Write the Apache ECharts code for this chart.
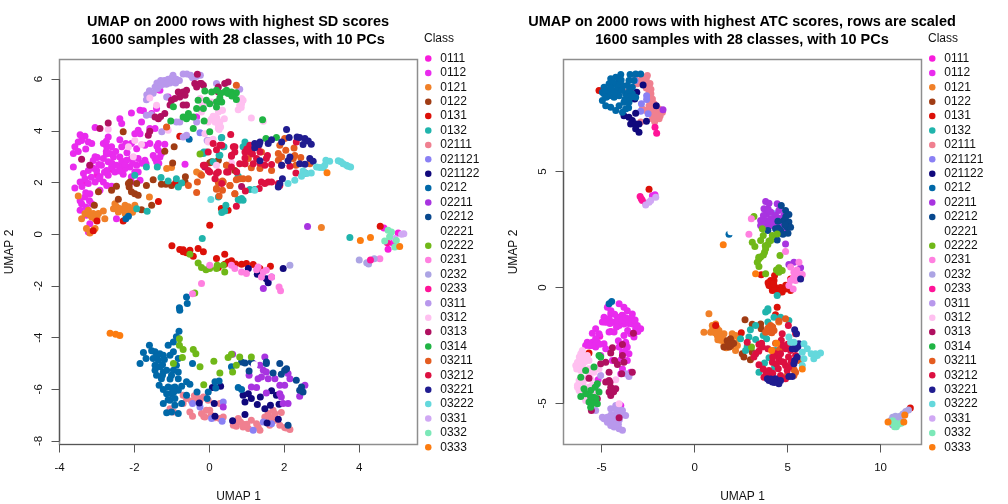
<!DOCTYPE html>
<html><head><meta charset="utf-8">
<style>html,body{margin:0;padding:0;background:#fff}#c{width:1008px;height:504px}</style>
<script src="https://cdn.jsdelivr.net/npm/echarts@6/dist/echarts.min.js"></script>
</head><body><div id="c"></div>
<script>
const classes=["0111","0112","0121","0122","0131","0132","02111","021121","021122","0212","02211","02212","02221","02222","0231","0232","0233","0311","0312","0313","0314","03211","03212","03221","03222","0331","0332","0333"];
const classColors=["#F81CDC","#E92BEE","#F08028","#A03C14","#DC1008","#20B4AC","#F08090","#8A80F4","#10087C","#0068A8","#A834E0","#08488E","#FFFFFF","#70B818","#FF80E0","#ACA4E4","#FF1498","#B898EC","#FFC0F0","#B01060","#20B444","#E45C20","#DC1040","#201C90","#64D8DC","#D0A8F4","#7CE8B8","#FC7C10"];
const titleSd="UMAP on 2000 rows with highest SD scores\n1600 samples with 28 classes, with 10 PCs";
const titleAtc="UMAP on 2000 rows with highest ATC scores, rows are scaled\n1600 samples with 28 classes, with 10 PCs";
const sdXTicks=[-4,-2,0,2,4], sdYTicks=[-8,-6,-4,-2,0,2,4,6];
const atcXTicks=[-5,0,5,10], atcYTicks=[-5,0,5];
const sdXRange=[-4,5.555], sdYRange=[-8.135,6.76];
const atcXRange=[-7.05,12.2], atcYRange=[-6.77,9.83];

const sd0111=[[4.66,0.24],[4.9,-0.34],[5.04,0.05],[4.77,-0.58],[-3.0,2.3],[-2.6,2.5],[-2.3,2.8],[-3.3,2.0]];
const sd0112=[[-3.32,3.79],[-3.41,3.63],[-3.5,3.57],[-3.59,3.38],[-3.63,3.12],[-3.23,3.57],[-3.14,3.51],[-3.05,4.13],[-2.7,3.76],[-2.83,3.51],[-2.74,3.38],[-2.61,3.38],[-2.65,3.12],[-2.39,4.47],[-2.08,4.69],[-1.85,4.8],[-1.76,4.78],[-2.39,3.66],[-2.23,3.51],[-2.08,3.51],[-2.34,3.38],[-2.39,2.99],[-2.56,2.99],[-2.7,2.8],[-2.83,2.93],[-2.99,2.97],[-2.88,2.67],[-3.01,2.47],[-3.19,2.67],[-3.23,2.47],[-3.36,2.35],[-3.63,2.6],[-3.32,2.15],[-3.45,2.02],[-3.59,1.79],[-3.23,1.96],[-3.05,2.02],[-2.83,2.02],[-2.74,1.89],[-2.61,1.86],[-3.19,1.57],[-3.32,1.44],[-3.41,1.18],[-3.45,0.93],[-3.14,1.18],[-3.28,0.73],[-3.19,0.41],[-3.23,0.09],[-2.92,2.22],[-2.74,2.47],[-2.61,2.6],[-2.48,2.67],[-2.34,2.8],[-2.21,2.86],[-2.08,2.93],[-1.9,2.93],[-1.72,2.86],[-1.94,2.67],[-2.12,2.6],[-2.25,2.54],[-2.39,2.6],[-2.52,2.41],[-2.7,2.28],[-1.99,2.41],[-2.08,2.22],[-1.9,2.41],[-1.85,2.09],[-2.08,2.02],[-2.3,2.32],[-1.36,3.25],[-1.32,2.99],[-1.41,2.8],[-1.28,3.12],[-1.45,2.93],[-1.69,2.73],[-1.85,3.89],[-1.99,3.89],[-1.9,4.02],[-1.81,4.34],[-1.59,4.09],[-1.45,4.09],[-1.41,4.86],[-1.1,5.31],[-1.32,5.57],[-1.36,5.6],[-1.72,3.44],[-1.36,3.51],[-1.19,3.48],[-1.59,3.51],[-1.54,4.67],[-1.94,3.31],[-0.65,2.71],[-0.34,4.54],[-2.34,4.28],[-2.48,0.6],[-2.92,1.7],[-3.05,3.0],[-2.5,3.2],[-2.2,3.15],[-3.1,2.85],[-2.75,3.1],[-3.45,3.85],[-3.5,3.2],[-3.3,3.3],[-2.95,2.7],[-3.1,2.55],[-2.8,2.4],[-2.6,2.75],[-2.4,2.45],[-2.25,2.7],[-2.05,2.75],[-1.8,2.75],[-2.95,2.15],[-3.15,2.2],[-3.4,1.85],[-3.3,1.6],[-3.45,1.3],[-3.3,1.05],[-3.2,1.3],[-2.75,3.6],[-2.75,3.2],[-1.35,2.75],[-1.5,3.05],[-1.4,3.4]];
const sd0121=[[-2.56,0.99],[-2.48,1.06],[-2.43,0.86],[-2.3,0.95],[-2.16,1.06],[-2.08,0.93],[-1.99,1.12],[-2.25,1.12],[-2.52,1.18],[-3.5,1.48],[-3.41,0.6],[-3.32,0.8],[-3.23,0.93],[-3.1,0.8],[-2.96,0.8],[-2.83,0.9],[-2.79,0.6],[-3.05,0.6],[-3.14,0.67],[-3.28,0.22],[-3.1,0.15],[-3.19,0.05],[-3.05,0.22],[-1.6,1.44],[-1.01,2.58],[-1.14,2.54],[-1.14,4.13],[-0.25,2.34],[-0.34,2.41],[2.99,0.26],[-2.36,0.95],[-2.2,0.85],[-2.4,1.0],[-2.25,0.8],[-2.05,0.85],[-3.0,0.65],[-3.2,0.75],[-2.2,1.02]];
const sd0122=[[-2.16,1.96],[-2.14,1.83],[-2.12,2.02],[-1.99,1.57],[-2.08,1.64],[-1.9,1.51],[-1.94,1.96],[-1.68,1.89],[-1.5,2.11],[-1.28,1.93],[-1.16,1.93],[-1.01,1.89],[-0.64,2.22],[-0.65,2.02],[-0.83,1.89],[-1.19,3.21],[-0.98,2.76],[-0.94,3.38],[-2.3,3.96],[-2.43,1.35],[-3.07,1.12],[-1.81,0.95],[-1.54,1.12],[-2.48,1.86],[-2.61,1.7],[-2.96,1.64],[0.06,2.8],[0.01,2.77],[0.24,2.86],[0.46,2.67],[0.68,2.47]];
const sd0131=[[0.01,0.35],[-1.36,1.27],[-3.1,0.13],[-2.3,0.51],[-3.0,0.51],[-0.9,1.99],[0.32,1.0],[0.5,0.93],[-0.79,3.79],[-1.0,-0.45],[-0.79,-0.59],[-0.7,-0.68],[-0.61,-0.72],[-0.52,-0.62],[-0.43,-0.85],[-0.3,-0.55],[-0.16,-0.68],[0.19,-0.94],[0.41,-0.77],[0.5,-1.07],[0.59,-1.03],[0.86,-1.16],[0.99,-1.13],[1.17,-1.17],[0.41,-1.16],[0.24,-1.29],[1.35,-1.33],[1.63,-1.24],[-0.7,-0.6],[0.7,-1.15],[4.56,0.31]];
const sd0132=[[-1.99,2.28],[-1.68,2.6],[-1.39,2.6],[-1.29,2.19],[-1.1,2.06],[-0.88,2.15],[-0.74,1.98],[-0.83,1.83],[-0.16,3.12],[-0.08,3.18],[0.33,3.74],[0.28,3.06],[0.1,2.8],[0.24,1.44],[0.39,3.38],[-1.94,0.99],[-1.66,0.89],[0.33,0.84],[0.41,0.9],[0.44,1.12],[-0.19,-0.17],[0.77,1.34],[0.77,2.24],[0.95,3.57],[1.01,3.44],[0.9,3.38],[0.8,1.31],[0.9,1.31],[0.86,1.38],[1.08,1.73],[1.21,1.73],[0.37,3.38],[0.32,3.73],[-0.15,3.18],[0.26,3.06],[3.75,-0.13]];
const sd02111=[[-0.7,-6.23],[-0.61,-6.36],[-0.48,-6.45],[-0.34,-6.3],[-0.16,-6.3],[-0.03,-6.42],[-1.05,-6.75],[-0.96,-6.88],[-0.52,-6.88],[-0.45,-7.04],[-0.21,-6.94],[-0.08,-6.81],[-0.12,-7.07],[0.01,-6.81],[0.15,-7.1],[0.28,-7.13],[0.37,-7.07],[0.64,-7.39],[0.72,-7.43],[0.83,-7.26],[0.9,-7.46],[1.04,-7.52],[1.12,-7.2],[1.26,-7.33],[1.35,-7.58],[1.48,-7.07],[1.57,-6.94],[1.7,-6.81],[1.92,-6.9],[1.88,-7.39],[2.01,-7.48],[2.15,-7.55],[1.61,-7.39],[1.75,-7.2],[-0.39,-6.42],[-0.7,-6.55],[-0.25,-6.42],[0.77,-7.13],[0.28,-6.55],[-0.4,-6.25],[-0.15,-7.05],[0.05,-7.0],[0.9,-7.35],[1.0,-7.35],[1.3,-7.45],[1.65,-7.1],[1.75,-6.95],[2.05,-7.5],[0.7,-7.25]];
const sd021121=[[-0.25,-6.68],[-0.45,-6.55],[0.06,-7.13],[0.34,-7.24],[1.17,-7.58],[1.44,-7.26],[1.66,-7.33],[0.37,-6.49],[-0.25,3.93]];
const sd021122=[[0.08,-5.93],[0.3,-5.88],[-0.27,-6.53],[0.13,-6.55],[0.15,-7.04],[0.9,-6.23],[1.04,-6.17],[1.12,-6.36],[0.95,-6.49],[1.28,-6.59],[1.36,-6.3],[1.66,-6.06],[1.79,-6.23],[1.48,-6.75],[1.63,-6.62],[1.86,-6.58],[0.95,-6.97],[0.62,-7.22],[1.54,-7.3],[1.84,-7.16],[1.97,-1.33],[1.04,-1.33],[1.28,-1.55],[1.52,-1.72],[1.57,-1.88]];
const sd0212=[[-0.81,-3.75],[-0.88,-3.97],[-0.96,-4.17],[-1.1,-4.3],[-1.6,-4.3],[-1.76,-4.58],[-1.54,-4.51],[-1.45,-4.55],[-1.32,-4.62],[-1.23,-4.68],[-0.96,-4.55],[-1.05,-4.68],[-1.69,-4.81],[-1.85,-5.0],[-1.5,-4.81],[-1.36,-4.88],[-1.45,-5.07],[-1.32,-5.13],[-1.45,-5.26],[-1.23,-5.33],[-1.41,-5.46],[-1.28,-5.59],[-1.01,-5.46],[-1.14,-5.26],[-0.83,-4.81],[-0.88,-5.07],[-0.96,-5.26],[-0.83,-5.33],[-0.83,-5.59],[-1.34,-5.84],[-1.23,-6.01],[-1.1,-5.91],[-1.14,-6.17],[-0.92,-5.91],[-0.74,-5.88],[-1.01,-6.17],[-1.05,-6.42],[-0.92,-6.36],[-0.92,-6.62],[-1.23,-6.55],[-1.14,-6.91],[-0.83,-6.94],[-1.01,-6.88],[-0.83,-6.04],[-0.61,-5.71],[-0.52,-5.8],[-0.45,-5.0],[-0.33,-6.1],[-0.03,-6.1],[-0.06,-6.36],[-0.61,-6.23],[0.15,-5.71],[0.26,-5.68],[0.17,-5.95],[0.59,-5.13],[0.77,-5.93],[0.86,-6.01],[-0.74,-6.55],[-0.61,-2.43],[-0.59,-2.68],[-0.8,-2.84],[-0.79,-2.94],[-0.54,3.67],[-2.16,0.7],[-2.23,0.6],[-1.4,-4.7],[-1.2,-4.85],[-1.25,-5.05],[-1.05,-5.6],[-1.0,-5.95],[-1.1,-6.4],[-0.95,-6.1],[-1.25,-5.45]];
const sd02211=[[1.48,-4.75],[1.35,-5.07],[1.44,-5.26],[1.52,-5.33],[1.39,-5.52],[1.3,-5.59],[1.57,-5.59],[1.75,-5.59],[1.88,-5.84],[2.01,-5.84],[2.1,-5.39],[2.15,-5.59],[1.88,-6.17],[1.92,-6.3],[1.12,-5.91],[1.26,-5.93],[1.52,-6.14],[1.97,-6.55],[2.1,-6.55],[2.41,-6.27],[2.55,-5.84],[1.06,-5.46],[0.62,-4.64],[0.37,-6.68],[1.44,-2.1],[1.66,-1.65],[1.17,-5.0],[2.62,0.3]];
const sd02212=[[0.86,-4.94],[0.95,-4.98],[1.12,-4.94],[1.52,-5.0],[1.88,-5.0],[2.01,-5.26],[2.06,-5.2],[1.92,-5.42],[1.7,-5.37],[1.52,-4.94],[1.06,-5.29],[2.46,-5.91],[2.41,-6.04],[2.5,-6.1],[2.32,-5.65],[2.1,-7.39]];
const sd02221=[[1.2,-5.05],[-0.02,-4.95]];
const sd02222=[[-0.8,-4.3],[-0.7,-4.46],[-0.8,-4.04],[-0.43,-4.46],[-0.36,-4.62],[-0.72,-4.77],[-0.96,-5.0],[-0.25,-5.13],[0.28,-5.37],[-0.15,-5.82],[0.12,-4.91],[0.5,-4.77],[0.59,-4.64],[0.72,-5.07],[0.62,-5.33],[0.81,-4.75],[1.12,-4.75],[-0.3,-1.11],[-0.21,-1.29],[-0.09,-1.37],[0.01,-1.33],[0.21,-1.2],[0.19,-1.33],[0.37,-1.2],[0.41,-1.46],[-0.39,-2.27],[-0.52,-0.77],[-0.25,3.1]];
const sd0231=[[0.01,-1.2],[0.59,-1.2],[0.68,-1.33],[0.86,-1.46],[0.99,-1.52],[1.26,-1.37],[1.44,-1.46],[1.39,-1.65],[1.52,-1.39],[1.66,-1.65],[1.86,-2.04],[1.9,-2.19],[-0.21,-1.91],[-0.45,-2.3],[1.3,-1.27],[4.55,-0.95]];
const sd0232=[[2.15,-1.2],[4.0,-1.0],[4.2,-1.1],[4.4,-0.95],[4.25,-1.15]];
const sd0233=[[4.3,-1.0],[4.75,-0.33]];
const sd0311=[[-1.68,5.2],[-1.67,5.4],[-1.6,5.55],[-1.5,5.45],[-1.45,5.7],[-1.38,5.65],[-1.4,5.85],[-1.3,5.95],[-1.25,5.8],[-1.2,5.95],[-1.15,5.8],[-1.1,6.0],[-1.05,5.85],[-1.0,6.05],[-0.95,5.9],[-0.97,6.15],[-0.88,6.0],[-0.8,5.95],[-0.7,6.2],[-0.6,6.2],[-0.5,6.15],[-0.45,6.05],[-0.35,6.1],[0.81,5.61],[0.19,5.83],[-0.24,6.15],[-0.88,4.34],[-0.79,4.34],[-0.7,3.76],[-0.61,3.83],[-1.27,3.96],[-1.14,5.31],[-1.41,5.63],[-1.68,4.6],[-0.34,4.34],[-0.03,3.63],[-0.06,3.63],[-1.55,4.62],[-1.3,5.75],[-1.1,5.85],[-0.9,5.85]];
const sd0312=[[0.86,5.25],[0.9,5.18],[0.81,4.99],[0.86,5.05],[0.77,4.82],[1.12,4.5],[1.44,4.37],[0.24,4.73],[0.35,4.8],[0.1,4.56],[0.15,4.34],[0.28,4.34],[0.24,4.22],[0.26,4.05],[0.4,4.47],[-0.03,4.34],[-0.21,4.73],[0.06,5.12],[-0.18,5.0],[-0.03,3.61],[0.1,3.67],[0.19,2.67],[0.59,2.76],[-1.59,5.27],[-1.41,4.99],[-2.7,4.06],[-1.99,3.63],[-1.81,3.47],[-2.03,3.0],[-2.16,3.38],[-1.1,4.02],[-0.12,3.89],[0.24,4.09],[-0.03,3.57],[-0.25,5.25],[0.33,4.8],[0.2,4.5],[0.3,4.15],[0.85,4.9],[0.05,4.45]];
const sd0313=[[-0.32,6.19],[-0.39,5.83],[-0.25,5.83],[-0.16,5.76],[-0.34,5.7],[-0.83,5.5],[-0.7,5.5],[-0.61,5.57],[-0.79,5.31],[-0.65,5.38],[-1.01,5.18],[-1.05,5.0],[-0.92,5.25],[-0.7,5.0],[-0.61,5.0],[-1.45,4.54],[-1.36,4.47],[-1.19,4.67],[-1.59,3.98],[-1.63,3.83],[-2.7,4.3],[-2.92,4.09],[-3.41,2.9],[-3.19,2.67],[0.5,5.89],[0.41,5.83],[0.24,5.7],[0.24,5.5],[0.21,5.12],[0.86,1.85],[-0.12,2.6],[-0.21,5.83],[-1.3,4.55]];
const sd0314=[[-0.12,5.54],[0.06,5.5],[0.41,5.5],[0.59,5.5],[0.68,5.44],[-0.08,5.18],[0.01,5.05],[0.19,5.12],[0.33,5.12],[-0.16,4.86],[-0.34,4.86],[-0.56,4.67],[-0.7,4.54],[-0.61,4.47],[-0.43,4.54],[-1.03,4.38],[-0.14,4.38],[-0.43,4.09],[0.01,3.96],[-0.96,4.93],[-0.3,5.18],[0.19,5.57],[0.46,5.57],[0.72,5.47],[0.5,5.44],[0.72,5.21],[0.28,5.27],[0.19,4.92],[1.42,4.43],[1.51,3.7],[1.79,3.74],[0.3,5.45],[0.6,5.35],[-0.55,4.55]];
const sd03211=[[1.04,2.93],[1.12,2.57],[0.95,2.73],[1.39,3.18],[1.35,2.54],[1.66,2.47],[1.84,3.12],[1.84,2.86],[1.93,3.0],[2.01,3.7],[1.88,3.44],[2.04,3.25],[2.26,3.34],[2.28,3.05],[2.24,2.93],[2.44,2.97],[2.31,2.67],[2.68,2.73],[0.24,2.0],[0.35,2.06],[0.35,1.7],[0.19,1.74],[0.55,1.89],[0.68,1.57],[0.26,1.48],[0.72,2.11],[0.9,2.15],[1.04,2.15],[0.81,2.15],[-0.21,2.28],[0.72,5.76],[0.46,2.67],[-0.32,2.02],[-0.56,1.89],[-0.34,1.61],[0.24,2.02],[0.37,2.02],[0.55,1.89],[0.19,1.77],[0.68,1.57],[-1.14,4.15]];
const sd03212=[[0.57,3.86],[-0.03,3.18],[0.28,3.44],[0.1,3.51],[0.64,3.38],[0.68,3.18],[0.59,3.02],[0.19,3.27],[0.95,3.18],[1.08,3.44],[1.08,3.18],[1.3,3.38],[1.35,3.18],[1.52,2.93],[1.26,2.93],[1.17,2.73],[0.95,2.73],[0.81,2.73],[0.59,2.6],[0.5,2.41],[-0.16,2.67],[0.01,2.41],[0.19,2.35],[1.66,2.7],[1.48,2.67],[2.15,2.63],[2.31,2.37],[2.32,3.57],[2.55,2.37],[1.93,2.67],[0.96,1.67],[0.72,1.08],[1.33,1.77],[1.39,2.02],[1.57,2.02],[1.48,1.96],[1.66,2.02],[1.88,1.89],[1.84,1.96],[0.15,2.15],[0.33,1.96],[0.33,3.44],[0.59,3.06],[0.68,3.38],[0.46,2.41],[0.73,2.41],[-0.12,2.67],[-0.03,2.47],[0.24,2.41],[1.15,3.3],[1.0,3.3],[1.15,3.1],[0.95,2.95],[1.35,2.75],[1.55,3.05]];
const sd03221=[[2.06,4.05],[1.35,3.57],[1.21,3.51],[1.21,3.35],[1.66,3.66],[1.57,3.51],[1.93,3.57],[2.13,3.74],[2.34,3.76],[2.41,3.74],[2.55,3.7],[2.64,3.61],[2.72,3.48],[2.5,3.47],[1.35,2.84],[2.15,2.99],[2.1,2.84],[1.93,2.67],[2.41,2.73],[2.55,2.71],[2.68,2.93],[2.77,2.82],[2.55,2.37],[1.95,2.15],[1.88,1.96],[1.84,1.83],[1.33,3.47]];
const sd03222=[[3.11,2.86],[3.21,2.82],[3.44,2.84],[3.57,2.73],[3.7,2.63],[3.77,2.6],[2.95,2.58],[3.04,2.58],[2.86,2.6],[2.72,2.37],[2.5,2.45],[2.28,2.09],[2.1,1.96],[2.46,2.24],[1.21,1.7],[0.04,1.34],[3.08,2.67],[3.66,2.67],[3.51,2.8],[2.6,2.35]];
const sd0331=[[5.13,0.0],[4.95,-0.17],[5.19,0.02]];
const sd0332=[[4.86,0.09],[4.99,-0.24],[4.95,-0.49],[4.68,-0.26],[4.81,-0.1],[4.77,0.15]];
const sd0333=[[3.14,2.38],[-2.65,-3.83],[-2.39,-3.92],[-2.5,-3.87],[4.3,-0.13],[4.03,-0.24],[5.08,-0.47]];

const atc0111=[[-3.9,-1.2],[-4.5,-1.9],[-3.7,-2.4],[-5.1,-2.1]];
const atc0112=[[-4.06,-0.7],[-3.8,-0.85],[-3.62,-1.0],[-3.35,-1.14],[-4.51,-1.14],[-4.87,-1.28],[-4.69,-0.85],[-4.6,-1.35],[-4.96,-1.49],[-4.69,-1.49],[-4.42,-1.49],[-4.15,-1.28],[-3.88,-1.21],[-3.53,-1.35],[-3.8,-1.57],[-4.06,-1.64],[-3.35,-1.57],[-3.17,-1.78],[-2.9,-1.78],[-3.08,-1.64],[-3.44,-2.0],[-3.26,-2.14],[-3.8,-2.07],[-4.33,-1.92],[-4.6,-1.92],[-5.14,-2.0],[-5.32,-1.78],[-5.5,-1.97],[-5.77,-2.36],[-5.5,-2.36],[-5.32,-2.21],[-5.86,-2.5],[-5.32,-2.57],[-4.87,-2.43],[-4.78,-2.64],[-4.06,-2.57],[-3.88,-2.79],[-3.62,-2.57],[-3.53,-2.86],[-3.71,-2.36],[-5.05,-2.93],[-4.42,-3.15],[-3.62,-3.15],[-3.88,-3.51],[-3.97,-3.72],[-3.44,-3.65],[-6.04,-3.18],[-5.19,-3.98],[-5.59,-2.5],[-5.23,-2.36],[-3.97,-5.09],[-4.15,-5.81],[-3.35,-2.0],[-2.27,3.96],[-2.13,4.0],[10.65,-5.92],[-4.5,-1.0],[-4.3,-1.15],[-4.3,-1.5],[-4.1,-1.45],[-3.9,-1.4],[-3.7,-1.3],[-3.55,-1.55],[-3.35,-1.35],[-3.2,-1.4],[-4.8,-1.5],[-4.55,-1.55],[-4.2,-1.7],[-3.6,-1.85],[-3.05,-1.9],[-5.5,-2.5],[-5.1,-2.45],[-5.65,-2.5],[-4.1,-2.3],[-3.95,-3.1],[-3.75,-2.75]];
const atc0121=[[0.77,-1.13],[0.5,-1.93],[0.95,-1.64],[0.86,-1.93],[1.31,-1.85],[1.22,-2.07],[1.58,-2.0],[1.4,-2.28],[1.58,-2.5],[2.02,-2.0],[2.2,-2.07],[2.38,-2.21],[2.2,-2.72],[1.13,-1.57],[1.04,-1.78],[4.53,-1.49],[1.67,-2.36],[1.9,-2.55],[0.95,-1.85],[1.1,-1.95],[1.2,-1.75],[1.4,-2.05],[1.55,-2.25],[1.7,-2.6],[2.0,-2.25],[1.85,-2.35],[1.25,-2.25],[2.3,-2.5]];
const atc0122=[[2.71,-1.39],[3.1,-1.59],[3.55,-1.57],[3.58,-1.78],[1.93,-2.21],[2.02,-2.43],[1.85,-2.57],[2.56,-2.86],[3.0,-3.12],[1.58,-2.57],[3.1,-2.79],[2.65,-3.0],[1.75,-2.3],[1.95,-2.5],[2.1,-2.4],[1.8,-2.45]];
const atc0131=[[-5.14,8.49],[-2.45,4.24],[-5.68,-2.82],[3.58,0.55],[4.09,0.3],[4.0,0.09],[4.27,0.3],[4.35,0.0],[4.62,0.0],[4.18,-0.13],[4.71,-0.2],[5.16,-0.13],[4.89,-0.06],[5.16,0.37],[4.3,0.52],[4.44,-0.85],[1.13,-1.64],[4.35,-1.18],[2.51,-1.95],[11.6,-5.2],[4.45,-0.15],[3.95,0.2],[4.1,0.05],[4.3,-0.1],[4.5,-0.25],[4.25,0.15],[4.6,-0.15],[4.9,0.1]];
const atc0132=[[3.94,-0.99],[3.82,-1.06],[4.27,-1.28],[4.62,-1.28],[5.07,-1.42],[3.94,-1.49],[3.28,-1.64],[3.0,-1.82],[2.92,-2.14],[2.47,-2.21],[3.28,-2.24],[3.69,-2.07],[3.87,-2.21],[2.74,-2.72],[2.83,-2.54],[3.46,-3.65],[4.0,-3.03],[3.76,-3.26],[4.3,-3.43],[3.28,-2.86],[4.35,-2.72],[4.44,-0.35],[3.94,-0.92]];
const atc02111=[[-3.17,9.14],[-2.81,9.09],[-2.54,9.14],[-2.72,8.92],[-2.5,8.71],[-2.45,8.49],[-2.54,8.27],[-2.27,8.13],[-2.18,7.92],[-2.36,7.99],[-2.81,7.7],[-2.63,7.63],[-2.36,7.7],[-1.91,7.7],[-2.0,7.49],[-1.73,7.56],[-2.27,7.27],[-1.91,7.27],[-2.09,7.49],[-2.9,7.13],[-3.71,8.42],[-3.35,8.49],[-3.08,8.78],[-2.9,8.92],[-2.45,7.84],[-2.6,8.6],[-2.35,8.35],[-2.3,8.0],[-2.2,7.7],[-2.0,7.3],[-2.2,7.4],[-1.85,7.4],[-2.6,9.0],[-2.4,8.8],[-2.35,8.55],[-2.3,7.55],[-2.15,7.15]];
const atc021121=[[-2.58,8.27],[-2.58,8.1],[-2.86,7.92],[-2.5,7.49],[-3.2,8.92],[-2.9,7.6],[4.27,3.18]];
const atc021122=[[-3.8,7.41],[-3.53,7.34],[-3.35,7.2],[-3.44,7.05],[-3.17,7.05],[-2.99,7.05],[-3.17,6.84],[-2.99,6.69],[-2.77,8.73],[-3.11,8.42],[-2.06,7.84],[-2.59,7.17],[-3.17,7.51],[-3.22,8.13]];
const atc0212=[[-3.97,9.18],[-4.24,9.07],[-4.51,9.0],[-4.06,8.92],[-4.33,8.78],[-4.6,8.78],[-4.87,8.63],[-4.96,8.42],[-4.69,8.49],[-4.42,8.49],[-4.15,8.56],[-3.88,8.71],[-3.62,8.71],[-3.47,9.18],[-3.17,9.21],[-2.9,9.21],[-3.53,8.92],[-3.35,8.63],[-3.71,8.35],[-4.06,8.27],[-4.33,8.2],[-4.6,8.27],[-4.87,8.35],[-4.96,8.06],[-4.78,7.84],[-4.51,7.77],[-4.24,7.63],[-4.06,7.84],[-3.8,7.99],[-3.53,7.99],[-3.88,7.56],[-3.71,7.7],[-3.17,8.2],[-3.35,8.35],[-3.26,8.92],[-4.6,-0.7],[-4.46,-0.6],[1.85,2.3],[-4.75,8.2],[-4.2,8.75],[-3.95,8.95],[-4.4,8.85],[-4.8,8.5],[-3.5,8.5],[-3.45,8.2],[-3.55,7.75],[-3.75,8.1],[-4.15,8.35],[-3.9,8.5],[-4.5,8.6],[-4.3,8.4]];
const atc02211=[[3.82,3.71],[4.0,3.63],[4.44,3.61],[3.73,3.39],[4.53,3.32],[3.87,3.17],[4.09,3.25],[3.55,2.89],[3.82,2.89],[4.09,2.96],[3.55,2.67],[4.09,2.67],[4.35,2.74],[4.8,3.1],[4.71,2.74],[4.8,2.49],[4.89,1.88],[5.07,0.99],[5.34,1.09],[5.7,0.85],[4.0,2.82],[4.35,3.1],[-1.7,7.66],[3.7,3.1],[3.95,3.4],[3.8,2.7],[4.25,2.85],[3.95,2.6],[4.5,3.0],[4.6,3.5]];
const atc02212=[[4.66,3.53],[4.89,3.32],[5.07,3.15],[4.8,2.89],[5.07,2.82],[4.48,2.86],[4.98,2.6],[4.35,2.53],[4.62,2.46],[5.02,2.34],[3.94,2.46],[4.44,2.05],[5.16,2.6],[4.9,3.05],[4.85,2.7],[4.75,2.3],[4.5,2.55]];
const atc02221=[[1.95,2.4]];
const atc02222=[[3.19,3.06],[3.64,2.53],[3.69,2.24],[3.55,2.03],[4.18,2.24],[4.09,2.03],[4.44,2.31],[3.94,1.85],[3.82,1.67],[3.76,1.52],[3.1,1.95],[3.24,1.77],[3.55,1.31],[3.46,1.24],[3.37,1.09],[3.46,0.9],[4.59,1.38],[4.53,0.85],[4.71,0.73],[4.53,0.66],[3.82,0.59],[3.06,-2.57],[3.8,1.8],[4.0,2.0],[3.45,1.3],[4.4,0.75],[3.7,1.4]];
const atc0231=[[2.92,2.3],[3.05,2.96],[4.89,1.55],[5.16,0.88],[5.61,1.09],[5.34,0.66],[5.79,0.56],[5.52,0.52],[5.16,0.3],[5.43,0.3],[5.07,0.09],[5.3,-0.06],[5.5,0.75],[5.3,0.4],[5.6,0.55]];
const atc0232=[[10.55,-5.73],[10.75,-5.7],[10.9,-5.6],[11.05,-5.55],[11.2,-5.45],[11.35,-5.35],[11.5,-5.28],[11.1,-5.75],[10.95,-5.75],[11.3,-5.5],[10.65,-5.6],[10.8,-5.55]];
const atc0233=[[-2.13,6.91],[-2.04,6.65],[-2.93,3.92],[-2.81,3.75],[-2.63,3.63],[-2.86,3.82]];
const atc0311=[[-4.87,-5.66],[-4.69,-5.81],[-4.51,-5.66],[-4.33,-5.52],[-4.51,-5.23],[-4.24,-5.09],[-4.06,-5.23],[-4.15,-5.45],[-3.88,-5.3],[-3.71,-5.52],[-4.33,-6.02],[-4.06,-6.09],[-3.88,-6.16],[-4.51,-5.95],[-4.96,-5.59],[-5.32,-5.3],[-5.28,-4.41],[-5.05,-3.79],[-3.53,-3.84],[-3.71,-3.72],[-3.97,-5.3],[-4.2,-5.75],[-4.05,-5.7],[-4.7,-5.6],[-4.4,-5.7],[-4.5,-5.5],[-4.3,-5.8],[-4.1,-5.9],[-4.25,-5.95],[-4.2,-5.3],[-4.0,-5.5]];
const atc0312=[[-6.04,-2.72],[-6.12,-2.86],[-6.3,-3.22],[-6.12,-3.22],[-6.34,-3.51],[-5.95,-3.0],[-5.68,-3.15],[-5.41,-3.65],[-5.68,-3.72],[-5.86,-3.94],[-6.21,-4.01],[-6.3,-4.22],[-6.21,-4.44],[-6.12,-4.51],[-5.5,-4.22],[-5.86,-4.87],[-5.32,-4.44],[-4.24,-3.98],[-5.14,-3.51],[-5.77,-2.93],[-4.06,-5.01],[-6.39,-3.36],[-6.12,-3.58],[-5.59,-3.94],[-6.2,-3.0],[-6.25,-3.4],[-6.0,-3.45],[-5.9,-3.2],[-6.3,-4.3],[-6.0,-4.1],[-5.7,-3.5],[-5.7,-4.3]];
const atc0313=[[-5.68,-3.91],[-5.05,-3.29],[-4.42,-2.6],[-4.51,-2.82],[-3.88,-2.46],[-3.88,-2.93],[-4.15,-3.32],[-3.8,-3.22],[-3.35,-3.65],[-4.6,-3.65],[-4.78,-4.08],[-4.6,-4.01],[-4.51,-4.3],[-4.42,-4.37],[-4.6,-4.51],[-4.51,-4.66],[-4.24,-4.37],[-5.23,-4.8],[-5.55,-5.3],[-4.06,-5.62],[-3.29,-1.97],[-3.92,-3.72],[-4.78,-3.22],[-4.35,-4.5],[-4.55,-4.1],[-4.45,-4.5],[-4.3,-3.15]];
const atc0314=[[-5.86,-3.58],[-6.12,-3.87],[-5.14,-2.93],[-5.41,-3.43],[-5.95,-4.37],[-5.59,-4.44],[-5.14,-4.51],[-6.12,-4.7],[-5.41,-4.73],[-5.23,-5.01],[-5.59,-5.16],[-5.68,-4.94],[-5.23,-4.15],[-5.05,-3.0],[-5.86,-4.58],[-5.45,-4.9],[-5.3,-4.8],[-5.5,-5.0],[-5.35,-4.3],[-5.6,-4.7]];
const atc03211=[[4.89,-1.35],[4.53,-1.45],[4.09,-1.64],[3.82,-1.93],[4.09,-1.93],[4.27,-1.85],[4.53,-2.72],[4.35,-2.4],[4.18,-2.72],[5.25,-3.41],[5.43,-3.65],[5.34,-3.79],[4.98,-3.79],[5.61,-3.15],[4.62,-2.64],[3.95,-1.75],[4.05,-1.8],[4.2,-1.7],[4.15,-1.95],[4.7,-2.5],[5.35,-3.55]];
const atc03212=[[5.04,-1.64],[4.71,-2.0],[5.43,-2.0],[2.83,-2.36],[3.46,-2.46],[3.64,-2.57],[3.94,-2.64],[3.28,-2.86],[3.19,-3.0],[4.66,-2.28],[4.89,-2.64],[5.16,-2.72],[5.43,-2.93],[4.35,-2.86],[4.53,-3.07],[4.8,-3.22],[4.18,-3.22],[3.46,-3.33],[3.69,-3.51],[4.0,-3.58],[3.73,-3.87],[4.0,-3.87],[4.89,-3.36],[4.98,-3.58],[4.62,-3.79],[4.89,-3.94],[5.07,-3.43],[4.62,-2.86],[4.2,-3.0],[4.4,-3.3],[4.7,-3.2],[4.75,-2.5],[5.0,-2.45],[5.05,-3.0],[4.5,-3.5],[3.85,-3.7],[4.2,-3.7],[3.45,-2.75],[3.6,-2.4],[5.2,-3.2]];
const atc03221=[[5.38,-1.82],[5.48,-2.0],[5.61,-2.43],[5.43,-2.64],[5.25,-2.64],[5.38,-3.15],[5.52,-3.0],[5.34,-3.29],[5.07,-3.84],[5.25,-3.84],[4.0,-4.01],[4.18,-4.08],[4.35,-3.94],[4.53,-4.15],[3.91,-3.94],[4.62,-4.01],[5.7,0.37],[4.3,-4.1],[4.1,-3.95],[5.45,-2.5],[5.55,-2.55]];
const atc03222=[[5.07,-2.14],[5.34,-2.36],[5.16,-2.36],[5.88,-2.43],[6.06,-2.64],[5.79,-2.79],[5.88,-3.07],[5.79,-3.36],[6.27,-2.86],[6.5,-2.86],[6.77,-2.83],[6.41,-3.07],[6.6,-2.93]];
const atc0331=[[-2.36,3.75],[-2.09,3.89],[-2.63,3.56],[-2.45,3.68]];
const atc0332=[[10.6,-5.85],[10.8,-5.85],[10.95,-5.9],[10.85,-6.0],[11.1,-5.85],[10.75,-6.0],[10.65,-5.75]];
const atc0333=[[1.54,1.84],[3.28,0.59],[5.79,-3.51],[4.41,-2.4],[4.14,-2.72],[10.4,-5.8],[11.25,-5.8],[11.3,-5.5]];

const sdPoints=[sd0111,sd0112,sd0121,sd0122,sd0131,sd0132,sd02111,sd021121,sd021122,sd0212,sd02211,sd02212,sd02221,sd02222,sd0231,sd0232,sd0233,sd0311,sd0312,sd0313,sd0314,sd03211,sd03212,sd03221,sd03222,sd0331,sd0332,sd0333];
const atcPoints=[atc0111,atc0112,atc0121,atc0122,atc0131,atc0132,atc02111,atc021121,atc021122,atc0212,atc02211,atc02212,atc02221,atc02222,atc0231,atc0232,atc0233,atc0311,atc0312,atc0313,atc0314,atc03211,atc03212,atc03221,atc03222,atc0331,atc0332,atc0333];

const FONT='"Liberation Sans",Helvetica,Arial,sans-serif';
const TEXT='#111', BOX='#8e8e8e', DARK='#555';
function xAxis(idx,range,ticks){return {type:'value',gridIndex:idx,min:range[0],max:range[1],splitLine:{show:false},name:'UMAP 1',nameLocation:'middle',nameGap:46,nameTextStyle:{fontFamily:FONT,fontSize:12,color:TEXT},axisLine:{show:false,onZero:false},axisTick:{show:true,customValues:ticks,length:8,lineStyle:{color:DARK}},axisLabel:{show:true,customValues:ticks,margin:17,fontFamily:FONT,fontSize:11.5,color:TEXT,showMinLabel:true,showMaxLabel:true}};}
function yAxis(idx,range,ticks){return {type:'value',gridIndex:idx,min:range[0],max:range[1],splitLine:{show:false},name:'UMAP 2',nameLocation:'middle',nameGap:44,nameRotate:90,nameTextStyle:{fontFamily:FONT,fontSize:12,color:TEXT},axisLine:{show:false,onZero:false},axisTick:{show:true,customValues:ticks,length:8,lineStyle:{color:DARK}},axisLabel:{show:true,customValues:ticks,rotate:90,margin:15,fontFamily:FONT,fontSize:11.5,color:TEXT,align:'center',verticalAlign:'bottom'}};}
function legend(left){return {orient:'vertical',left:left,top:47,itemWidth:14,itemHeight:6.5,itemGap:1.4,icon:'circle',selectedMode:false,data:classes,textStyle:{fontFamily:FONT,fontSize:12,color:TEXT,height:13,lineHeight:13,width:40}};}
function panel(idx,points,xr,yr,xt,yt){
  const out=classes.map((n,i)=>({type:'scatter',name:n,xAxisIndex:idx,yAxisIndex:idx,data:points[i],symbol:'circle',symbolSize:7,itemStyle:{color:classColors[i],opacity:1},silent:true,animation:false}));
  const edge=(d)=>({type:'line',xAxisIndex:idx,yAxisIndex:idx,data:d,showSymbol:false,clip:false,silent:true,animation:false,lineStyle:{color:DARK,width:1.2},z:5});
  out.push(edge([[xt[0],yr[0]],[xt[xt.length-1],yr[0]]]));
  out.push(edge([[xr[0],yt[0]],[xr[0],yt[yt.length-1]]]));
  return out;
}
const chart=echarts.init(document.getElementById('c'),null,{renderer:'canvas'});
chart.setOption({
  animation:false,backgroundColor:'#fff',
  title:[
    {text:titleSd,left:233,top:8,textAlign:'center',textStyle:{fontFamily:FONT,fontWeight:'bold',fontSize:14.5,lineHeight:18,color:'#000'}},
    {text:titleAtc,left:737,top:8,textAlign:'center',textStyle:{fontFamily:FONT,fontWeight:'bold',fontSize:14.5,lineHeight:18,color:'#000'}},
    {text:'Class',left:419,top:28,textStyle:{fontFamily:FONT,fontWeight:'normal',fontSize:12,color:TEXT}},
    {text:'Class',left:923,top:28,textStyle:{fontFamily:FONT,fontWeight:'normal',fontSize:12,color:TEXT}}
  ],
  legend:[legend(420),legend(924)],
  grid:[
    {left:59.5,top:59.5,width:358,height:385,show:true,outerBoundsMode:'none',containLabel:false,borderColor:BOX,borderWidth:1.5,backgroundColor:'transparent'},
    {left:563.5,top:59.5,width:358,height:385,show:true,outerBoundsMode:'none',containLabel:false,borderColor:BOX,borderWidth:1.5,backgroundColor:'transparent'}
  ],
  xAxis:[xAxis(0,sdXRange,sdXTicks),xAxis(1,atcXRange,atcXTicks)],
  yAxis:[yAxis(0,sdYRange,sdYTicks),yAxis(1,atcYRange,atcYTicks)],
  series:panel(0,sdPoints,sdXRange,sdYRange,sdXTicks,sdYTicks).concat(panel(1,atcPoints,atcXRange,atcYRange,atcXTicks,atcYTicks))
});
</script></body></html>
